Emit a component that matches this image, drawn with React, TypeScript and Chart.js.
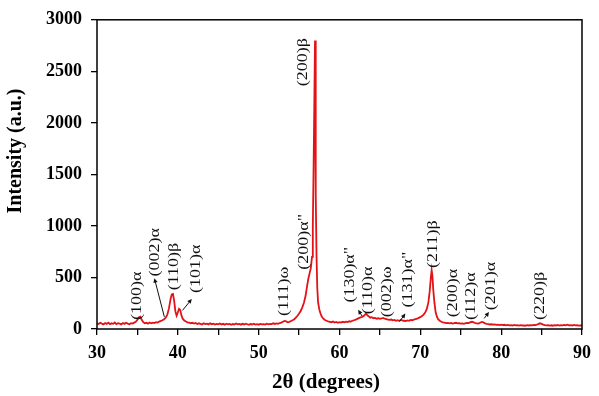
import { useEffect, useRef } from 'react';
import { Chart, registerables } from 'chart.js';

Chart.register(...registerables);

// 2θ positions (degrees) of the diffractogram samples
const twoTheta = [
  30.0, 30.2, 30.4, 30.6, 30.8, 31.0, 31.2, 31.4, 31.6, 31.8,
  32.0, 32.2, 32.4, 32.6, 32.8, 33.0, 33.2, 33.4, 33.6, 33.8,
  34.0, 34.2, 34.4, 34.6, 34.8, 35.0, 35.2, 35.35, 35.5, 35.7,
  35.9, 36.1, 36.3, 36.5, 36.7, 36.9, 37.1, 37.3, 37.5, 37.7,
  37.9, 38.1, 38.3, 38.5, 38.7, 38.9, 39.1, 39.25, 39.4, 39.55,
  39.7, 39.85, 40.0, 40.15, 40.3, 40.45, 40.6, 40.8, 41.0, 41.2,
  41.4, 41.6, 41.8, 42.0, 42.2, 42.4, 42.6, 42.8, 43.0, 43.2,
  43.4, 43.6, 43.8, 44.0, 44.2, 44.4, 44.6, 44.8, 45.0, 45.2,
  45.4, 45.6, 45.8, 46.0, 46.2, 46.4, 46.6, 46.8, 47.0, 47.2,
  47.4, 47.6, 47.8, 48.0, 48.2, 48.4, 48.6, 48.8, 49.0, 49.2,
  49.4, 49.6, 49.8, 50.0, 50.2, 50.4, 50.6, 50.8, 51.0, 51.2,
  51.4, 51.6, 51.8, 52.0, 52.2, 52.4, 52.6, 52.8, 53.0, 53.2,
  53.4, 53.6, 53.8, 54.0, 54.2, 54.4, 54.6, 54.8, 55.0, 55.2,
  55.4, 55.6, 55.8, 56.0, 56.15, 56.3, 56.45, 56.6, 56.7, 56.8,
  56.9, 56.97, 57.03, 57.09, 57.16, 57.25, 57.35, 57.5, 57.65, 57.8,
  58.0, 58.2, 58.4, 58.6, 58.8, 59.0, 59.2, 59.4, 59.6, 59.8,
  60.0, 60.2, 60.4, 60.6, 60.8, 61.0, 61.2, 61.4, 61.6, 61.8,
  62.0, 62.2, 62.4, 62.6, 62.8, 63.0, 63.15, 63.3, 63.45, 63.6,
  63.8, 64.0, 64.2, 64.4, 64.6, 64.8, 65.0, 65.2, 65.4, 65.6,
  65.8, 66.0, 66.2, 66.4, 66.6, 66.8, 67.0, 67.2, 67.4, 67.6,
  67.8, 68.0, 68.2, 68.4, 68.6, 68.8, 69.0, 69.2, 69.4, 69.6,
  69.8, 70.0, 70.2, 70.4, 70.6, 70.8, 71.0, 71.15, 71.3, 71.4,
  71.5, 71.6, 71.75, 71.9, 72.05, 72.2, 72.4, 72.6, 72.8, 73.0,
  73.2, 73.4, 73.6, 73.8, 74.0, 74.2, 74.4, 74.6, 74.8, 75.0,
  75.2, 75.4, 75.6, 75.8, 76.0, 76.2, 76.4, 76.6, 76.8, 77.0,
  77.2, 77.4, 77.6, 77.8, 78.0, 78.2, 78.4, 78.6, 78.8, 79.0,
  79.2, 79.4, 79.6, 79.8, 80.0, 80.2, 80.4, 80.6, 80.8, 81.0,
  81.2, 81.4, 81.6, 81.8, 82.0, 82.2, 82.4, 82.6, 82.8, 83.0,
  83.2, 83.4, 83.6, 83.8, 84.0, 84.2, 84.4, 84.6, 84.8, 85.0,
  85.2, 85.4, 85.6, 85.8, 86.0, 86.2, 86.4, 86.6, 86.8, 87.0,
  87.2, 87.4, 87.6, 87.8, 88.0, 88.2, 88.4, 88.6, 88.8, 89.0,
  89.2, 89.4, 89.6, 89.8, 90.0,
];

// Measured intensity (a.u.) at each 2θ sample
const intensity = [
  55, 48, 60, 52, 45, 58, 50, 62, 47, 55,
  50, 63, 48, 56, 52, 45, 58, 50, 60, 52,
  47, 57, 53, 62, 70, 90, 115, 120, 95, 68,
  55, 60, 52, 63, 56, 62, 58, 66, 62, 72,
  78, 85, 95, 110, 140, 200, 290, 335, 340, 270,
  170, 130, 160, 195, 185, 130, 100, 82, 72, 65,
  62, 56, 60, 52, 58, 48, 55, 50, 44, 56,
  48, 52, 45, 55, 47, 52, 43, 50, 46, 54,
  44, 50, 42, 52, 46, 50, 41, 48, 44, 53,
  45, 49, 42, 50, 44, 52, 46, 40, 48, 44,
  51, 43, 47, 42, 50, 45, 48, 43, 52, 46,
  50, 47, 55, 49, 54, 50, 58, 62, 70, 78,
  74, 66, 70, 78, 85, 95, 110, 128, 150, 175,
  210, 255, 320, 420, 490, 540, 590, 700, 1000, 1600,
  2300, 2800, 2250, 1300, 700, 400, 260, 190, 150, 120,
  100, 88, 80, 74, 70, 66, 72, 63, 68, 60,
  66, 62, 70, 65, 72, 68, 75, 72, 80, 85,
  90, 98, 105, 112, 118, 125, 140, 150, 132, 125,
  110, 115, 105, 108, 100, 104, 98, 102, 108, 100,
  96, 92, 88, 92, 84, 88, 80, 85, 78, 90,
  82, 80, 76, 84, 80, 88, 85, 90, 95, 100,
  108, 115, 125, 140, 160, 195, 260, 360, 500, 570,
  510, 380, 250, 160, 120, 95, 80, 70, 65, 62,
  58, 60, 55, 58, 52, 56, 60, 54, 57, 52,
  55, 50, 56, 60, 58, 66, 70, 65, 58, 55,
  52, 60, 68, 64, 55, 50, 47, 44, 46, 42,
  44, 40, 43, 38, 42, 37, 41, 36, 40, 35,
  38, 34, 39, 35, 37, 33, 38, 34, 36, 32,
  37, 34, 38, 35, 40, 37, 42, 48, 55, 50,
  42, 38, 35, 38, 33, 36, 32, 38, 34, 40,
  33, 38, 35, 40, 36, 42, 35, 38, 34, 39,
  35, 37, 33, 36, 34,
];

// Axis tick values
const xTicks = [30, 40, 50, 60, 70, 80, 90];
const yTicks = [0, 500, 1000, 1500, 2000, 2500, 3000];

// Reflection labels: text, 2θ of the label centre, intensity where the text starts
const peakLabels = [
  '(100)α', '(002)α', '(110)β', '(101)α', '(111)ω', '(200)α"', '(200)β',
  '(130)α"', '(110)α', '(002)ω', '(131)α"', '(211)β', '(200)α', '(112)α',
  '(201)α', '(220)β',
];
const labelTheta = [
  35.0, 37.22, 39.5, 42.3, 53.09, 55.6, 55.5,
  61.33, 63.54, 65.88, 68.46, 71.55, 73.99, 76.32,
  78.8, 84.82,
];
const labelStart = [
  87, 509, 375, 350, 125, 575, 2356,
  256, 143, 115, 209, 593, 115, 87,
  181, 87,
];

// Pointer arrows (tail → head) linking labels to small reflections
const arrowFromTheta = [38.33, 40.58, 62.8, 67.45, 77.9];
const arrowFromI = [118, 181, 125, 75, 103];
const arrowToTheta = [37.1, 41.73, 62.31, 68.15, 78.5];
const arrowToI = [493, 291, 187, 150, 165];

const SERIF = '"Liberation Serif", "Times New Roman", serif';

const decorPlugin = {
  id: 'xrdDecor',
  afterDraw(chart: any) {
    const { ctx, chartArea, scales } = chart;
    const xs = scales.x;
    const ys = scales.y;
    ctx.save();

    // plot frame
    ctx.strokeStyle = '#000';
    ctx.lineWidth = 1.5;
    ctx.strokeRect(chartArea.left, chartArea.top, chartArea.right - chartArea.left, chartArea.bottom - chartArea.top);

    // reflection labels, written bottom-to-top
    ctx.fillStyle = '#111';
    ctx.font = `15px ${SERIF}`;
    ctx.textAlign = 'left';
    ctx.textBaseline = 'middle';
    peakLabels.forEach((t, i) => {
      const px = xs.getPixelForValue(labelTheta[i]);
      const py = ys.getPixelForValue(labelStart[i]);
      ctx.save();
      ctx.translate(px, py);
      ctx.rotate(-Math.PI / 2);
      ctx.scale(1.2, 1);
      ctx.fillText(t, 0, 0);
      ctx.restore();
    });

    // arrows
    ctx.strokeStyle = '#111';
    ctx.fillStyle = '#111';
    ctx.lineWidth = 1;
    arrowFromTheta.forEach((_, i) => {
      const x1 = xs.getPixelForValue(arrowFromTheta[i]);
      const y1 = ys.getPixelForValue(arrowFromI[i]);
      const x2 = xs.getPixelForValue(arrowToTheta[i]);
      const y2 = ys.getPixelForValue(arrowToI[i]);
      const a = Math.atan2(y2 - y1, x2 - x1);
      const h = 5;
      ctx.beginPath();
      ctx.moveTo(x1, y1);
      ctx.lineTo(x2 - Math.cos(a) * h * 0.8, y2 - Math.sin(a) * h * 0.8);
      ctx.stroke();
      ctx.beginPath();
      ctx.moveTo(x2, y2);
      ctx.lineTo(x2 - h * Math.cos(a - 0.45), y2 - h * Math.sin(a - 0.45));
      ctx.lineTo(x2 - h * Math.cos(a + 0.45), y2 - h * Math.sin(a + 0.45));
      ctx.closePath();
      ctx.fill();
    });

    // axis titles
    ctx.fillStyle = '#000';
    ctx.textAlign = 'center';
    ctx.textBaseline = 'middle';
    ctx.font = `bold 21px ${SERIF}`;
    ctx.fillText('2θ (degrees)', 326, 383);
    ctx.save();
    ctx.translate(16, 151);
    ctx.rotate(-Math.PI / 2);
    ctx.font = `bold 20px ${SERIF}`;
    ctx.fillText('Intensity (a.u.)', 0, 0);
    ctx.restore();

    ctx.restore();
  },
};

export default function App() {
  const ref = useRef<HTMLCanvasElement>(null);

  useEffect(() => {
    const canvas = ref.current;
    if (!canvas) return;
    const tickFont = { family: SERIF, size: 18, weight: 'bold' as const };
    const chart = new Chart(canvas, {
      type: 'line',
      data: {
        datasets: [
          {
            data: twoTheta.map((x, i) => ({ x, y: intensity[i] })),
            borderColor: 'rgb(228, 18, 22)',
            borderWidth: 1.8,
            pointRadius: 0,
            tension: 0,
            fill: false,
          },
        ],
      },
      options: {
        responsive: false,
        animation: false,
        layout: { padding: { top: 9.5, right: 14, left: 0, bottom: 0 } },
        plugins: { legend: { display: false }, tooltip: { enabled: false } },
        scales: {
          x: {
            type: 'linear',
            min: 30,
            max: 90,
            ticks: {
              stepSize: 5,
              autoSkip: false,
              maxRotation: 0,
              padding: 8,
              color: '#000',
              font: tickFont,
              callback: (v: any) => (xTicks.includes(Number(v)) ? String(v) : ''),
            },
            grid: { drawOnChartArea: false, drawTicks: true, tickLength: 6, color: '#000', lineWidth: 1.3 },
            border: { display: false },
            afterFit: (s: any) => {
              s.height = 67;
            },
          },
          y: {
            type: 'linear',
            min: 0,
            max: 3000,
            ticks: {
              stepSize: 500,
              padding: 9,
              color: '#000',
              font: tickFont,
              callback: (v: any) => (yTicks.includes(Number(v)) ? String(v) : ''),
            },
            grid: { drawOnChartArea: false, drawTicks: true, tickLength: 6, color: '#000', lineWidth: 1.3 },
            border: { display: false },
            afterFit: (s: any) => {
              s.width = 97;
            },
          },
        },
      },
      plugins: [decorPlugin],
    });
    return () => chart.destroy();
  }, []);

  return (
    <div style={{ position: 'fixed', left: 0, top: 0, width: 599, height: 396, background: '#fff' }}>
      <canvas ref={ref} width={599} height={396} style={{ display: 'block' }} />
    </div>
  );
}
